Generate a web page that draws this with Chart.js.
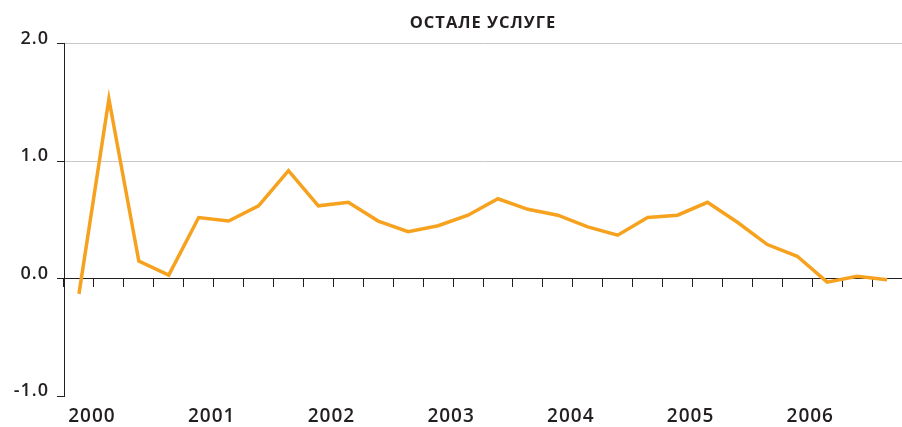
<!DOCTYPE html>
<html>
<head>
<meta charset="utf-8">
<script src="https://cdn.jsdelivr.net/npm/chart.js@4/dist/chart.umd.min.js"></script>
<style>
  html, body { margin: 0; padding: 0; background: #fff; }
  #wrap { width: 902px; height: 427px; }
</style>
</head>
<body>
<div id="wrap"><canvas id="grafik" width="902" height="427"></canvas></div>
<script>
// kvartali 2000-2006
const kvartali = [
  '2000Q1','2000Q2','2000Q3','2000Q4',
  '2001Q1','2001Q2','2001Q3','2001Q4',
  '2002Q1','2002Q2','2002Q3','2002Q4',
  '2003Q1','2003Q2','2003Q3','2003Q4',
  '2004Q1','2004Q2','2004Q3','2004Q4',
  '2005Q1','2005Q2','2005Q3','2005Q4',
  '2006Q1','2006Q2','2006Q3','2006Q4'
];
// oznake godina ispod ose
const godine = ['2000','2001','2002','2003','2004','2005','2006'];
// vrednosti serije
const ostaleUsluge = [
  -0.13, 1.53, 0.15, 0.03,
  0.52, 0.49, 0.62, 0.92,
  0.62, 0.65, 0.49, 0.40,
  0.45, 0.54, 0.68, 0.59,
  0.54, 0.44, 0.37, 0.52,
  0.54, 0.65, 0.48, 0.29,
  0.19, -0.03, 0.02, -0.01
];
const yOznake = [-1, 0, 1, 2];

const tamna = '#231f20';
const font = 'Open Sans, Noto Sans, sans-serif';

// razmak izmedju slova (kao u originalu)
const razmakSlova = {
  id: 'razmakSlova',
  beforeDraw(chart) { chart.ctx.letterSpacing = '1px'; }
};

const ctx = document.getElementById('grafik').getContext('2d');
new Chart(ctx, {
  type: 'line',
  data: {
    labels: kvartali,
    datasets: [{
      label: 'ОСТАЛЕ УСЛУГЕ',
      data: ostaleUsluge,
      borderColor: '#f6a21e',
      borderWidth: 3.5,
      pointRadius: 0,
      tension: 0,
      fill: false,
      xAxisID: 'x',
      yAxisID: 'y'
    }]
  },
  options: {
    responsive: false,
    animation: false,
    layout: { padding: { left: 0, right: 0, top: 0, bottom: 0 } },
    plugins: {
      legend: { display: false },
      tooltip: { enabled: false },
      title: {
        display: true,
        text: 'ОСТАЛЕ УСЛУГЕ',
        fullSize: false,
        color: tamna,
        font: { family: font, size: 16.5, weight: '700' },
        padding: { top: 13, bottom: 11 }
      }
    },
    scales: {
      x: {
        type: 'category',
        position: 'bottom',
        offset: true,
        border: { display: false },
        grid: { display: false, drawTicks: false },
        ticks: {
          autoSkip: false,
          maxRotation: 0,
          padding: 9,
          labelOffset: 13,
          color: tamna,
          font: { family: font, size: 19, weight: '600' },
          callback: function(v, i) {
            return i % 4 === 0 ? godine[i / 4] : '';
          }
        },
        afterFit: function(s) { s.height = 31; }
      },
      x2: {
        type: 'category',
        labels: kvartali,
        position: { y: 0 },
        offset: true,
        border: { display: true, color: tamna, width: 1 },
        grid: {
          offset: true,
          drawOnChartArea: false,
          drawTicks: true,
          tickLength: 8,
          tickColor: tamna,
          tickWidth: 1
        },
        ticks: { display: false }
      },
      y: {
        min: -1,
        max: 2,
        afterBuildTicks: function(s) {
          s.ticks = yOznake.map(v => ({ value: v }));
        },
        border: { display: true, color: tamna, width: 1 },
        grid: {
          drawTicks: true,
          tickLength: 7,
          tickColor: tamna,
          color: function(c) {
            if (c.tick.value === 0) return tamna;
            if (c.tick.value < 0) return 'rgba(0,0,0,0)';
            return '#c8c8c8';
          }
        },
        ticks: {
          padding: 8,
          labelOffset: -5,
          color: tamna,
          font: { family: font, size: 18, weight: '600' },
          callback: v => v.toFixed(1)
        },
        afterFit: function(s) { s.width = 64; }
      }
    }
  },
  plugins: [razmakSlova]
});
</script>
</body>
</html>
